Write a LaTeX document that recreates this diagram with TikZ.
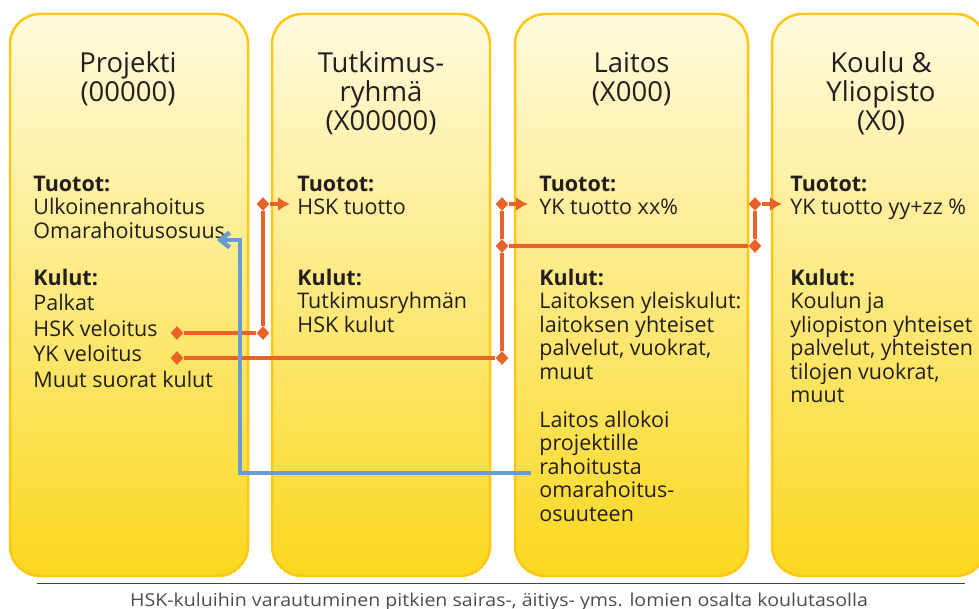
\documentclass[tikz,border=0pt]{standalone}
\usepackage{fontspec}
\setmainfont{Open Sans}
\newfontfamily\notefont[FakeStretch=1.1]{Open Sans}
\usetikzlibrary{shapes.geometric,arrows.meta}
\definecolor{boxedge}{RGB}{255,198,20}
\definecolor{boxtop}{RGB}{255,250,222}
\definecolor{boxbot}{RGB}{251,216,30}
\definecolor{costline}{RGB}{233,99,40}
\definecolor{fundline}{RGB}{104,156,212}
\definecolor{ink}{RGB}{35,31,32}
\newcommand\bodystrut{\rule{0pt}{9bp}}
\newcommand\headstrut{\rule{0pt}{12bp}}
\begin{document}
\begin{tikzpicture}[>={Latex[length=6bp,width=7bp]},line join=bevel,
    unit/.style={draw=boxedge,line width=1.25bp,rectangle,rounded corners=15bp,top color=boxtop,bottom color=boxbot,inner sep=0pt},
    head/.style={align=center,anchor=north,inner sep=0pt,text=ink,font=\fontsize{13.75bp}{14.5bp}\selectfont},
    body/.style={align=left,anchor=north west,inner sep=0pt,text=ink,font=\fontsize{10.75bp}{11.75bp}\selectfont},
    loose/.style={font=\fontsize{10.75bp}{12.75bp}\selectfont},
    joint/.style={diamond,fill=costline,inner sep=0pt,minimum width=6.5bp,minimum height=7bp},
    cost/.style={draw=costline,line width=2.25bp},
    fund/.style={draw=fundline,line width=2.25bp},
    ]
        \clip (0bp,0bp) rectangle (489.5bp,304.5bp);
        %%
        \node (projekti) at (64.5bp,157.0bp) [unit,minimum width=119bp,minimum height=281bp] {};
        \node (ryhma) at (190.5bp,157.0bp) [unit,minimum width=109bp,minimum height=281bp] {};
        \node (laitos) at (315.75bp,157.0bp) [unit,minimum width=116.5bp,minimum height=281bp] {};
        \node (koulu) at (439.5bp,157.0bp) [unit,minimum width=107bp,minimum height=281bp] {};
        %%
        \node (projhead) at (64.0bp,280.5bp) [head] {\headstrut Projekti\\(00000)};
        \node (ryhmahead) at (190.5bp,280.5bp) [head] {\headstrut Tutkimus-\\ryhmä\\(X00000)};
        \node (laitoshead) at (315.75bp,280.5bp) [head] {\headstrut Laitos\\(X000)};
        \node (kouluhead) at (440.5bp,280.5bp) [head] {\headstrut Koulu \&\\Yliopisto\\(X0)};
        %%
        \node (projin) at (16.5bp,218.15bp) [body] {\bodystrut\textbf{Tuotot:}\\Ulkoinenrahoitus\\Omarahoitusosuus};
        \node (projout) at (16.5bp,171.0bp) [body,loose] {\bodystrut\textbf{Kulut:}\\Palkat\\HSK veloitus\\YK veloitus\\Muut suorat kulut};
        \node (ryhmain) at (148.5bp,218.15bp) [body] {\bodystrut\textbf{Tuotot:}\\HSK tuotto};
        \node (ryhmaout) at (148.5bp,171.0bp) [body] {\bodystrut\textbf{Kulut:}\\Tutkimusryhmän\\HSK kulut};
        \node (laitosin) at (269.5bp,218.15bp) [body] {\bodystrut\textbf{Tuotot:}\\YK tuotto xx\%};
        \node (laitosout) at (269.5bp,171.0bp) [body] {\bodystrut\textbf{Kulut:}\\Laitoksen yleiskulut:\\laitoksen yhteiset\\palvelut, vuokrat,\\muut};
        \node (laitosnote) at (269.5bp,100.0bp) [body] {\bodystrut Laitos allokoi\\projektille\\rahoitusta\\omarahoitus-\\osuuteen};
        \node (kouluin) at (395.0bp,218.15bp) [body] {\bodystrut\textbf{Tuotot:}\\YK tuotto yy+zz \%};
        \node (kouluout) at (395.0bp,171.0bp) [body] {\bodystrut\textbf{Kulut:}\\Koulun ja\\yliopiston yhteiset\\palvelut, yhteisten\\tilojen vuokrat,\\muut};
        %%
        \node (hskout) at (88.5bp,138.0bp) [joint] {};
        \node (hskbend) at (131.5bp,138.0bp) [joint] {};
        \node (hsktop) at (131.5bp,202.5bp) [joint] {};
        \coordinate (hskin) at (145.0bp,202.5bp);
        \node (ykout) at (88.5bp,125.5bp) [joint] {};
        \node (ykbend) at (251.0bp,125.5bp) [joint] {};
        \node (ykmid) at (251.0bp,181.5bp) [joint] {};
        \node (yktop) at (251.0bp,202.5bp) [joint] {};
        \coordinate (ykin) at (264.0bp,202.5bp);
        \node (kbend) at (377.5bp,181.5bp) [joint] {};
        \node (ktop) at (377.5bp,202.5bp) [joint] {};
        \coordinate (kin) at (391.0bp,202.5bp);
        \coordinate (fundout) at (265.5bp,68.0bp);
        \coordinate (fundbend) at (120.0bp,68.0bp);
        \coordinate (fundtop) at (120.0bp,184.5bp);
        \coordinate (fundin) at (108.5bp,184.5bp);
        %%
        \draw [cost] (hskout) -- (hskbend) -- (hsktop);
        \draw [cost,->] (hsktop) -- (hskin);
        \draw [cost] (ykout) -- (ykbend) -- (ykmid) -- (yktop);
        \draw [cost,->] (yktop) -- (ykin);
        \draw [cost] (ykmid) -- (kbend) -- (ktop);
        \draw [cost,->] (ktop) -- (kin);
        \draw [fund,line join=miter,-{Straight Barb[length=4.5bp,width=7.5bp]}] (fundout) -- (fundbend) -- (fundtop) -- (fundin);
        %
        \coordinate (ruleleft) at (18.5bp,12.85bp);
        \coordinate (ruleright) at (482.5bp,12.85bp);
        \draw [draw=ink!85,line width=0.75bp] (ruleleft) -- (ruleright);
        \node (note) at (249.5bp,1.2bp) [anchor=base,inner sep=0pt,text=ink!80,font=\notefont\fontsize{8.9bp}{10bp}\selectfont] {HSK-kuluihin varautuminen pitkien sairas-, äitiys- yms. lomien osalta koulutasolla};
        %
    \end{tikzpicture}
\end{document}
